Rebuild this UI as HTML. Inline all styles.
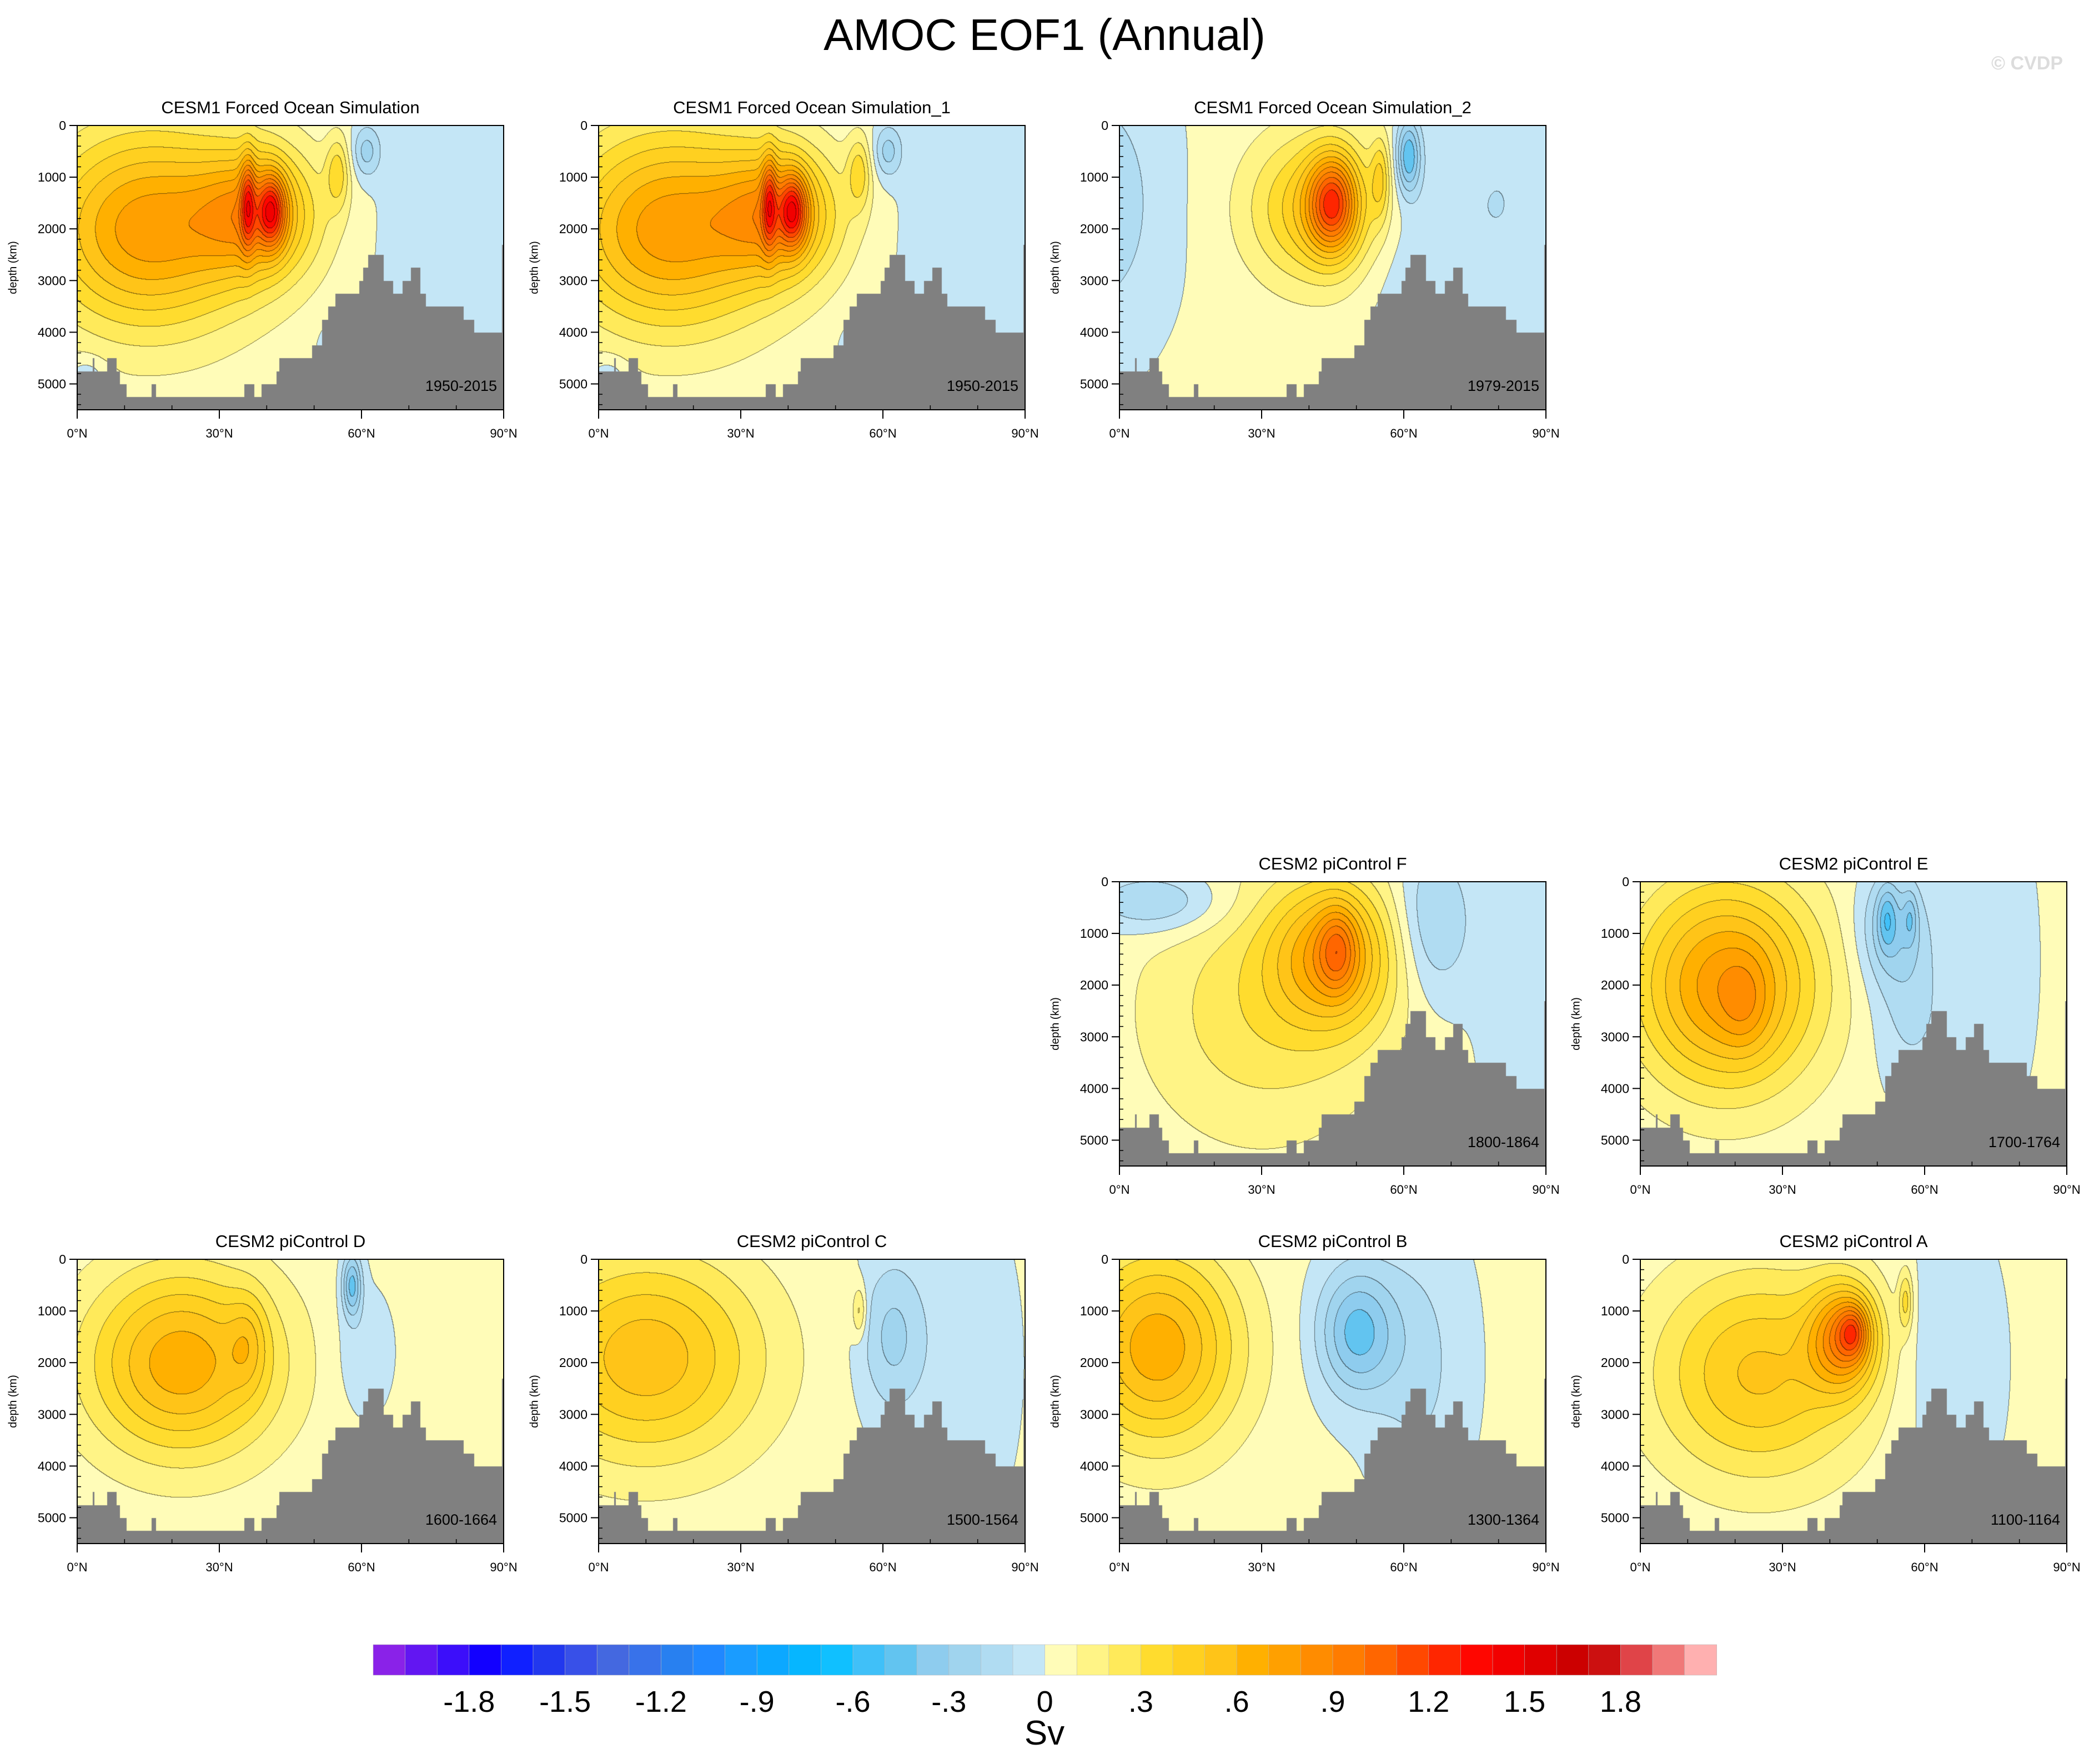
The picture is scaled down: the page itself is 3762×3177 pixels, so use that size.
<!DOCTYPE html>
<html><head><meta charset="utf-8">
<style>
html,body{margin:0;padding:0;background:#fff;}
body{width:3762px;height:3177px;position:relative;overflow:hidden;font-family:"Liberation Sans",sans-serif;}
canvas{position:absolute;}
svg{position:absolute;left:0;top:0;}
</style></head>
<body>
<div id="panels"></div>
<svg id="ov" width="3762" height="3177"></svg>
<script>
// ---- data ----
const levelColors = ["#8A22E8","#6216F2","#3C0EFA","#1200FF","#1020FF","#2238EE","#3850E8","#4468E0","#3872EA","#2880F0","#2088FF","#1A9CFF","#0CA8FF","#06B6FF","#10C0FF","#40C0F8","#62C4F0","#8ECCEE","#A0D4EE","#B0DCF2","#C4E6F6",
"#FFFCB8","#FFF486","#FFEA5A","#FFDC2E","#FFD020","#FFC418","#FFB000","#FFA000","#FF8C00","#FF7C00","#FF6600","#FF4800","#FF2600","#FF0600","#F20000","#E00000","#CC0000","#CC1010","#E04448","#F07878","#FFB0B0"];
const cbLabels = ["-1.8","-1.5","-1.2","-.9","-.6","-.3","0",".3",".6",".9","1.2","1.5","1.8"];
const cbLabelValues = [-1.8,-1.5,-1.2,-0.9,-0.6,-0.3,0,0.3,0.6,0.9,1.2,1.5,1.8];
const bathyLat   = [0,3.2,3.6,6.3,8.3,9.0,10.4,15.7,16.6,35.2,37.3,38.9,42,42.6,49.5,51.6,52.9,54.4,59.5,60.3,61.3,64.6,66.6,68.6,70.4,72.4,73.5,81.5,83.7,89.6];
const bathyDepth = [4750,4500,4750,4500,4750,5000,5250,5000,5250,5000,5250,5000,4750,4500,4250,3750,3500,3250,3000,2750,2500,3000,3250,3000,2750,3250,3500,3750,4000,2300];
const xTicks = [0,30,60,90];
const xTickLabels = ["0°N","30°N","60°N","90°N"];
const yTicks = [0,1000,2000,3000,4000,5000];
const panelTitles = ["CESM1 Forced Ocean Simulation","CESM1 Forced Ocean Simulation_1","CESM1 Forced Ocean Simulation_2","CESM2 piControl F","CESM2 piControl E","CESM2 piControl D","CESM2 piControl C","CESM2 piControl B","CESM2 piControl A"];
const panelYears = ["1950-2015","1950-2015","1979-2015","1800-1864","1700-1764","1600-1664","1500-1564","1300-1364","1100-1164"];
// anomaly structures: [lat, depth, amplitude(Sv), lat-width, depth-width]
const blobs1 = [[15,2000,0.75,22,1900],[38,1700,0.6,12,1200],[41,1650,0.7,3,700],[36,1500,0.5,1.5,900],[55,900,0.3,2.5,700],[61,500,-0.25,3,500],[80,2000,-0.1,16,4000],[2,4900,-0.15,4,400],[55,4300,-0.12,4,500]];
const blobs2 = blobs1;
const blobs3 = [[-5,1500,-0.2,14,2500],[42,1600,0.5,14,1400],[45,1500,0.8,5,900],[55,1000,0.3,2,800],[61,600,-0.5,2.5,700],[80,1500,-0.12,15,2500],[60,2500,-0.1,10,2000]];
const blobsF = [[45,1400,0.6,13,1400],[30,2500,0.25,25,2500],[46,1300,0.35,4,800],[66,800,-0.25,8,1500],[85,2000,-0.08,10,4000],[8,400,-0.25,14,600]];
const blobsE = [[18,2000,0.75,19,2000],[22,2400,0.15,5,900],[53,900,-0.3,7,1100],[52,700,-0.25,2,600],[57,700,-0.2,1.5,500],[57,2500,-0.15,8,1500],[75,1500,-0.08,8,3000]];
const blobsD = [[22,2000,0.65,20,1800],[36,1600,0.2,4,900],[58,500,-0.45,2,600],[60,1800,-0.1,6,1200]];
const blobsC = [[10,1900,0.55,24,2000],[55,1000,0.25,1.5,500],[62,1500,-0.25,7,1500],[78,2000,-0.08,10,3000]];
const blobsB = [[8,1700,0.65,17,1900],[50,1400,-0.45,8,1200],[63,2000,-0.15,10,2500]];
const blobsA = [[25,2200,0.5,22,2000],[43,1500,0.7,7,1000],[45,1400,0.4,3,500],[56,800,0.3,1.5,600],[65,2000,-0.12,10,2500]];
const panelBlobs = [blobs1,blobs2,blobs3,blobsF,blobsE,blobsD,blobsC,blobsB,blobsA];

// ---- layout ----
const PW=768, PH=512, DMAX=5500;
const pos=[[139,226],[1078,226],[2016,226],[2016,1588],[2954,1588],[139,2268],[1078,2268],[2016,2268],[2954,2268]];
const xs = lat => lat/90*PW;
const ys = d => d/DMAX*PH;
const NS="http://www.w3.org/2000/svg";
const ov=document.getElementById('ov');
function sv(tag,attrs,parent){const e=document.createElementNS(NS,tag);for(const k in attrs)e.setAttribute(k,attrs[k]);(parent||ov).appendChild(e);return e;}
function hex(c){return [parseInt(c.slice(1,3),16),parseInt(c.slice(3,5),16),parseInt(c.slice(5,7),16)];}
const rgb=levelColors.map(hex);
function bathyAt(lat){let d=bathyDepth[0];for(let i=0;i<bathyLat.length;i++){if(lat>=bathyLat[i])d=bathyDepth[i];}return d;}

const cont=document.getElementById('panels');
panelBlobs.forEach((bl,p)=>{
  const [x0,y0]=pos[p];
  const cv=document.createElement('canvas');
  cv.width=PW;cv.height=PH;cv.style.left=x0+'px';cv.style.top=y0+'px';
  
  
  cont.appendChild(cv);
  const ctx=cv.getContext('2d');
  const img=ctx.createImageData(PW,PH);
  const idx=new Int16Array(PW*PH);
  const floor=new Float32Array(PW);
  for(let px=0;px<PW;px++)floor[px]=ys(bathyAt(px/PW*90));
  for(let py=0;py<PH;py++){const d=py/PH*DMAX;
    for(let px=0;px<PW;px++){
      if(py>=floor[px]){idx[py*PW+px]=-1;continue;}
      const lat=px/PW*90;let v=0.02;
      for(const b of bl){const a=(lat-b[0])/b[3],c=(d-b[1])/b[4];v+=b[2]*Math.exp(-a*a-c*c);}
      let k=Math.floor(v*10)+21;if(k<0)k=0;if(k>41)k=41;idx[py*PW+px]=k;}}
  for(let py=0;py<PH;py++)for(let px=0;px<PW;px++){
    const i=py*PW+px,k=idx[i],o=i*4;
    if(k<0){img.data[o]=128;img.data[o+1]=128;img.data[o+2]=128;img.data[o+3]=255;continue;}
    let c=rgb[k];
    const r=px<PW-1?idx[i+1]:k, dn=py<PH-1?idx[i+PW]:k;
    if((r>=0&&r!==k)||(dn>=0&&dn!==k)){c=[c[0]*0.45,c[1]*0.45,c[2]*0.45];}
    img.data[o]=c[0];img.data[o+1]=c[1];img.data[o+2]=c[2];img.data[o+3]=255;}
  ctx.putImageData(img,0,0);

  const g=sv('g',{transform:`translate(${x0},${y0})`});
  
  
  sv('rect',{x:0,y:0,width:PW,height:PH,fill:'none',stroke:'#000','stroke-width':2},g);
  const t=sv('text',{x:PW/2,y:-22,'text-anchor':'middle','font-size':31},g);t.textContent=panelTitles[p];
  
  
  const yr=sv('text',{x:PW-12,y:PH-34,'text-anchor':'end','font-size':27},g);yr.textContent=panelYears[p];
  
  
  yTicks.forEach(v=>{const y=ys(v);sv('line',{x1:-14,x2:0,y1:y,y2:y,stroke:'#000','stroke-width':2},g);
    const l=sv('text',{x:-20,y:y+8,'text-anchor':'end','font-size':23},g);l.textContent=v;
    
    });
  for(let v=200;v<DMAX;v+=200){if(v%1000===0)continue;const y=ys(v);sv('line',{x1:0,x2:7,y1:y,y2:y,stroke:'#000','stroke-width':1.5},g);}
  xTicks.forEach((v,i)=>{const x=xs(v);sv('line',{x1:x,x2:x,y1:PH,y2:PH+16,stroke:'#000','stroke-width':2},g);
    const l=sv('text',{x:x,y:PH+50,'text-anchor':'middle','font-size':22},g);l.textContent=xTickLabels[i];
    
    });
  for(let v=10;v<90;v+=10){if(v%30===0)continue;const x=xs(v);sv('line',{x1:x,x2:x,y1:PH,y2:PH-8,stroke:'#000','stroke-width':1.5},g);}
  const yl=sv('text',{x:-115,y:PH/2,'text-anchor':'middle','font-size':20,transform:`rotate(-90 -115 ${PH/2})`,'dominant-baseline':'middle'},g);yl.textContent='depth (km)';
  
  
});

// title
const tt=sv('text',{x:1881,y:90,'text-anchor':'middle','font-size':80});tt.textContent='AMOC EOF1 (Annual)';


const cr=sv('text',{x:3715,y:125,'text-anchor':'end','font-size':34,'font-weight':'bold',fill:'#dcdcdc'});cr.textContent='© CVDP';



// colorbar
const CBX=672,CBY=2962,CBW=57.6,CBH=55;
const cb=sv('g',{});


levelColors.forEach((c,i)=>{const r=sv('rect',{x:CBX+i*CBW,y:CBY,width:CBW+0.5,height:CBH,fill:c,stroke:'#bbb','stroke-width':0.6},cb);
  
  });
cbLabelValues.forEach((v,i)=>{const j=21+Math.round(v*10);const l=sv('text',{x:CBX+j*CBW,y:CBY+CBH+66,'text-anchor':'middle','font-size':54},cb);l.textContent=cbLabels[i];
  
  });
const sv2=sv('text',{x:1881,y:3142,'text-anchor':'middle','font-size':62});sv2.textContent='Sv';


</script>
</body></html>
